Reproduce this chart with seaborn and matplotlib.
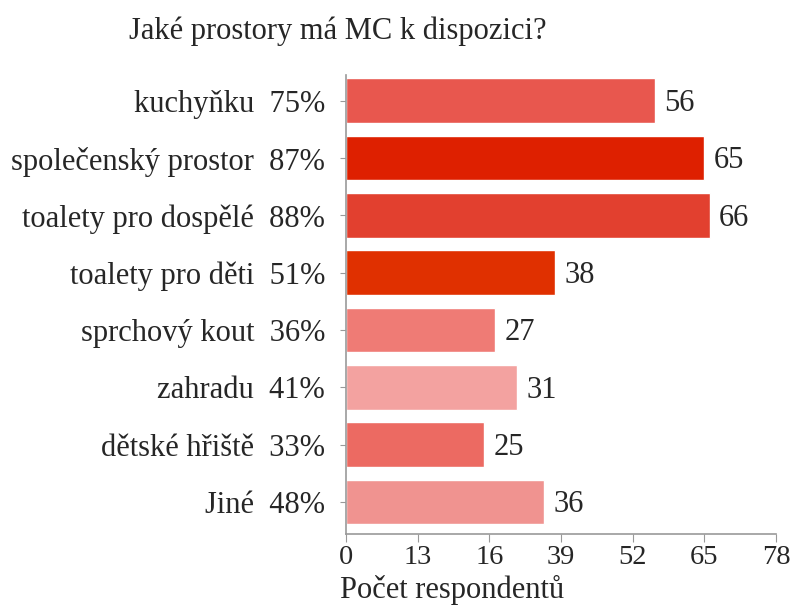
import matplotlib.pyplot as plt
import seaborn as sns
import pandas as pd

# data
categories = ['kuchyňku', 'společenský prostor', 'toalety pro dospělé', 'toalety pro děti',
              'sprchový kout', 'zahradu', 'dětské hřiště', 'Jiné']
percents = [75, 87, 88, 51, 36, 41, 33, 48]
counts = [56, 65, 66, 38, 27, 31, 25, 36]
colors = ['#E8574E', '#DE2000', '#E2402F', '#E03000', '#EF7B75', '#F3A2A0', '#EC6A62', '#F09390']
x_ticks = [0, 13, 26, 39, 52, 65, 78]
x_tick_labels = ['0', '13', '16', '39', '52', '65', '78']


def main():
    sns.set_style('white')
    plt.rcParams['font.family'] = ['Liberation Serif', 'DejaVu Serif']

    labels = [f'{c}  {p}%' for c, p in zip(categories, percents)]
    df = pd.DataFrame({'label': labels, 'count': counts})

    fig = plt.figure(figsize=(7.94, 6.10), dpi=100)
    ax = fig.add_axes([0.4358, 0.1246, 0.5415, 0.7524])

    sns.barplot(data=df, x='count', y='label', hue='label', palette=colors,
                legend=False, orient='h', width=0.78, ax=ax, saturation=1)

    for i, v in enumerate(counts):
        ax.text(v + 1.7, i + 0.05, str(v), va='center', ha='left', fontsize=22)

    ax.set_xlim(0, 78)
    ax.set_ylim(7.56, -0.45)
    ax.set_xticks(x_ticks)
    ax.set_xticklabels(x_tick_labels, fontsize=20.5)
    ax.tick_params(axis='y', labelsize=22, length=4, color='#999999', left=True, pad=11)
    ax.tick_params(axis='x', length=6, color='#999999', bottom=True, pad=2)
    ax.set_ylabel('')
    ax.set_xlabel('')

    sns.despine(ax=ax)
    for side in ['left', 'bottom']:
        ax.spines[side].set_color('#999999')
        ax.spines[side].set_linewidth(1.2)

    fig.text(0.428, 0.008, 'Počet respondentů', fontsize=22, ha='left', va='bottom')
    fig.text(0.425, 0.948, 'Jaké prostory má MC k dispozici?', fontsize=22, ha='center', va='center')

    fig.savefig('out.png', dpi=100)


if __name__ == "__main__":
    main()
